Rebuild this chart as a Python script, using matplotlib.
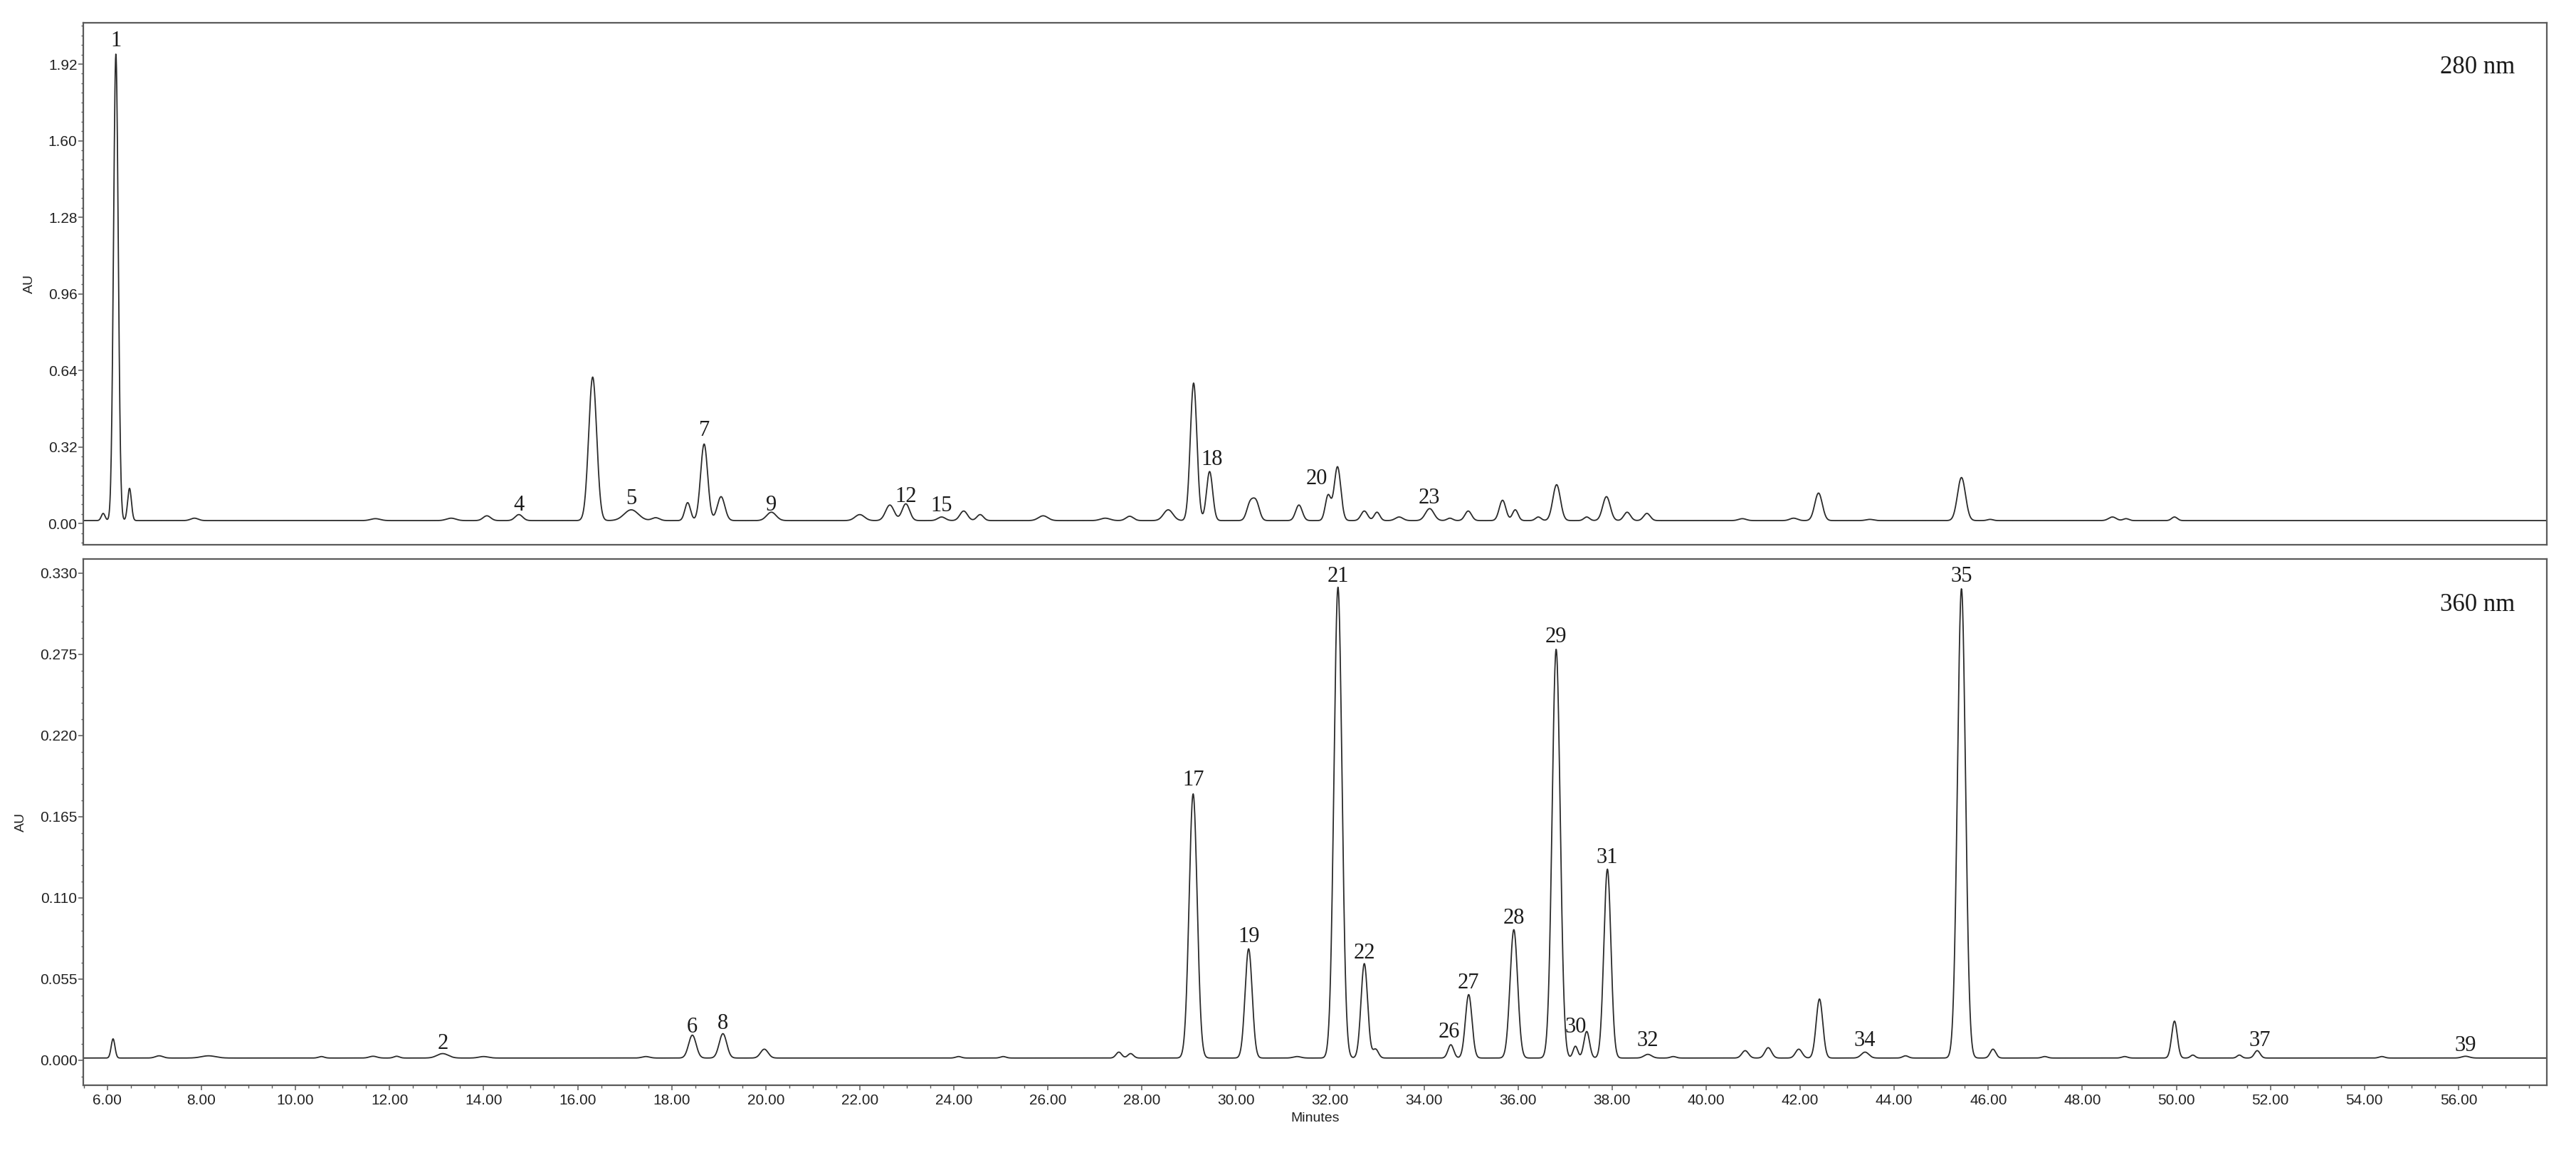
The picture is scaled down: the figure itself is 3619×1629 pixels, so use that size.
import numpy as np
import matplotlib
matplotlib.use("Agg")
import matplotlib.pyplot as plt
from matplotlib.ticker import MultipleLocator, FixedLocator

# ---------------- data ----------------
# 280 nm trace: peak retention times (min), heights (AU), widths (sigma, min)
t280 = [5.91, 6.18, 6.47, 7.85, 11.7, 13.31, 14.07, 14.75, 16.32, 17.14, 17.66,
        18.34, 18.69, 19.05, 20.12, 22.0, 22.64, 22.98, 23.74, 24.21, 24.56,
        25.9, 27.22, 27.74, 28.56, 29.10, 29.44, 30.30, 30.43, 31.34, 31.96,
        32.16, 32.73, 33.0, 33.47, 34.12, 34.55, 34.94, 35.67, 35.94, 36.43,
        36.82, 37.46, 37.88, 38.32, 38.74, 40.77, 41.86, 42.39, 43.48, 45.43,
        46.04, 48.64, 48.93, 49.96]
h280 = [0.03, 1.95, 0.135, 0.01, 0.008, 0.01, 0.02, 0.025, 0.60, 0.045, 0.012,
        0.075, 0.32, 0.10, 0.035, 0.025, 0.065, 0.07, 0.015, 0.04, 0.025,
        0.02, 0.01, 0.018, 0.045, 0.575, 0.205, 0.07, 0.075, 0.065, 0.105,
        0.225, 0.04, 0.035, 0.015, 0.05, 0.01, 0.04, 0.085, 0.045, 0.015,
        0.15, 0.015, 0.10, 0.035, 0.03, 0.008, 0.01, 0.115, 0.005, 0.18,
        0.005, 0.015, 0.008, 0.015]
w280 = [0.04, 0.05, 0.04, 0.08, 0.1, 0.1, 0.08, 0.08, 0.085, 0.15, 0.08,
        0.06, 0.075, 0.08, 0.1, 0.1, 0.09, 0.08, 0.08, 0.08, 0.07,
        0.1, 0.1, 0.08, 0.1, 0.07, 0.065, 0.07, 0.07, 0.07, 0.06,
        0.07, 0.07, 0.06, 0.08, 0.09, 0.06, 0.07, 0.07, 0.06, 0.06,
        0.08, 0.06, 0.08, 0.07, 0.07, 0.08, 0.08, 0.08, 0.08, 0.085,
        0.06, 0.08, 0.06, 0.06]
base280 = 0.012

# 360 nm trace
t360 = [6.12, 7.1, 8.15, 10.55, 11.65, 12.15, 13.13, 14.0, 17.45, 18.44, 19.09,
        19.97, 24.1, 25.05, 27.51, 27.76, 29.09, 30.27, 31.3, 32.17, 32.73,
        32.97, 34.57, 34.95, 35.91, 36.81, 37.22, 37.46, 37.90, 38.76, 39.3,
        40.83, 41.32, 41.97, 42.41, 43.38, 44.24, 45.43, 46.10, 47.2, 48.9,
        49.96, 50.35, 51.34, 51.72, 54.37, 56.15]
h360 = [0.013, 0.0015, 0.0015, 0.001, 0.0012, 0.0012, 0.003, 0.001, 0.001, 0.0155, 0.0165,
        0.006, 0.001, 0.001, 0.004, 0.003, 0.179, 0.074, 0.001, 0.319, 0.064,
        0.006, 0.009, 0.043, 0.087, 0.277, 0.008, 0.018, 0.128, 0.0025, 0.001,
        0.005, 0.007, 0.006, 0.040, 0.004, 0.0015, 0.318, 0.006, 0.001, 0.001,
        0.025, 0.002, 0.002, 0.005, 0.001, 0.0012]
w360 = [0.04, 0.08, 0.15, 0.06, 0.08, 0.06, 0.12, 0.1, 0.08, 0.08, 0.08,
        0.08, 0.06, 0.06, 0.06, 0.06, 0.085, 0.075, 0.08, 0.085, 0.07,
        0.06, 0.06, 0.07, 0.08, 0.085, 0.05, 0.06, 0.075, 0.08, 0.06,
        0.07, 0.07, 0.07, 0.07, 0.08, 0.06, 0.085, 0.06, 0.06, 0.06,
        0.06, 0.05, 0.05, 0.06, 0.06, 0.08]
base360 = 0.0015

# peak labels: text, time under the label, level of the label baseline (AU)
lab280 = ["1", "4", "5", "7", "9", "12", "15", "18", "20", "23"]
lab280_t = [6.18, 14.75, 17.14, 18.69, 20.12, 22.98, 23.74, 29.49, 31.72, 34.11]
lab280_y = [1.995, 0.054, 0.080, 0.367, 0.054, 0.089, 0.051, 0.245, 0.164, 0.083]

lab360 = ["2", "6", "8", "17", "19", "21", "22", "26", "27", "28", "29",
          "30", "31", "32", "34", "35", "37", "39"]
lab360_t = [13.13, 18.44, 19.09, 29.09, 30.27, 32.17, 32.73, 34.53, 34.95,
            35.91, 36.80, 37.22, 37.89, 38.76, 43.38, 45.43, 51.78, 56.15]
lab360_y = [0.0077, 0.0188, 0.021, 0.186, 0.080, 0.324, 0.069, 0.0154, 0.0487,
            0.0926, 0.283, 0.0188, 0.1336, 0.0096, 0.0096, 0.324, 0.0096, 0.0063]

yticks280 = [0.00, 0.32, 0.64, 0.96, 1.28, 1.60, 1.92]
yticks360 = [0.000, 0.055, 0.110, 0.165, 0.220, 0.275, 0.330]
xticks = list(range(6, 57, 2))

# ---------------- figure ----------------
XMIN, XMAX = 5.485, 57.88
fig = plt.figure(figsize=(36.19, 16.29), dpi=100)
ax1 = fig.add_axes([0.0323, 0.5304, 0.9564, 0.4500])
ax2 = fig.add_axes([0.0323, 0.0645, 0.9564, 0.4536])

t = np.linspace(XMIN, XMAX, 8000)


def trace(times, heights, widths, base):
    y = np.full_like(t, base)
    for c, h, s in zip(times, heights, widths):
        y += h * np.exp(-0.5 * ((t - c) / s) ** 2)
    return y


line_col = "#2b2b2b"
spine_col = "#5a5a5a"
tick_font = dict(family="Liberation Sans", size=15, color="#222222")
serif = "Liberation Serif"

ax1.plot(t, trace(t280, h280, w280, base280), color=line_col, lw=1.3)
ax2.plot(t, trace(t360, h360, w360, base360), color=line_col, lw=1.3)

for ax in (ax1, ax2):
    ax.set_xlim(XMIN, XMAX)
    for sp in ax.spines.values():
        sp.set_color(spine_col)
        sp.set_linewidth(1.6)
    ax.tick_params(axis="y", which="major", direction="out", length=5, width=1.1,
                   color=spine_col, pad=1)
    ax.tick_params(axis="y", which="minor", direction="out", length=2.5, width=1.0,
                   color=spine_col)
    ax.set_ylabel("AU", fontfamily="Liberation Sans", fontsize=14, color="#222222",
                  labelpad=13)

ax1.set_ylim(-0.089, 2.093)
ax1.yaxis.set_major_locator(FixedLocator(yticks280))
ax1.set_yticklabels([f"{v:.2f}" for v in yticks280], **tick_font)
ax1.yaxis.set_minor_locator(MultipleLocator(0.04))
ax1.tick_params(axis="x", which="both", bottom=False, labelbottom=False)

ax2.set_ylim(-0.0169, 0.3396)
ax2.yaxis.set_major_locator(FixedLocator(yticks360))
ax2.set_yticklabels([f"{v:.3f}" for v in yticks360], **tick_font)
ax2.yaxis.set_minor_locator(MultipleLocator(0.011))
ax2.xaxis.set_major_locator(FixedLocator(xticks))
ax2.set_xticklabels([f"{v:.2f}" for v in xticks], **tick_font)
ax2.xaxis.set_minor_locator(MultipleLocator(0.5))
ax2.tick_params(axis="x", which="major", direction="out", length=5, width=1.1,
                color=spine_col, pad=4)
ax2.tick_params(axis="x", which="minor", direction="out", length=3, width=1.0,
                color=spine_col)
ax2.set_xlabel("Minutes", fontfamily="Liberation Sans", fontsize=14, color="#222222",
               labelpad=5)

for s, x, y in zip(lab280, lab280_t, lab280_y):
    ax1.text(x, y, s, ha="center", va="baseline", fontfamily=serif, fontsize=22,
             color="#1a1a1a")
for s, x, y in zip(lab360, lab360_t, lab360_y):
    ax2.text(x, y, s, ha="center", va="baseline", fontfamily=serif, fontsize=22,
             color="#1a1a1a")

ax1.text(0.987, 0.914, "280 nm", transform=ax1.transAxes, ha="right", va="center",
         fontfamily=serif, fontsize=25, color="#1a1a1a")
ax2.text(0.987, 0.913, "360 nm", transform=ax2.transAxes, ha="right", va="center",
         fontfamily=serif, fontsize=25, color="#1a1a1a")

fig.savefig("out.png", dpi=100, facecolor="white")
